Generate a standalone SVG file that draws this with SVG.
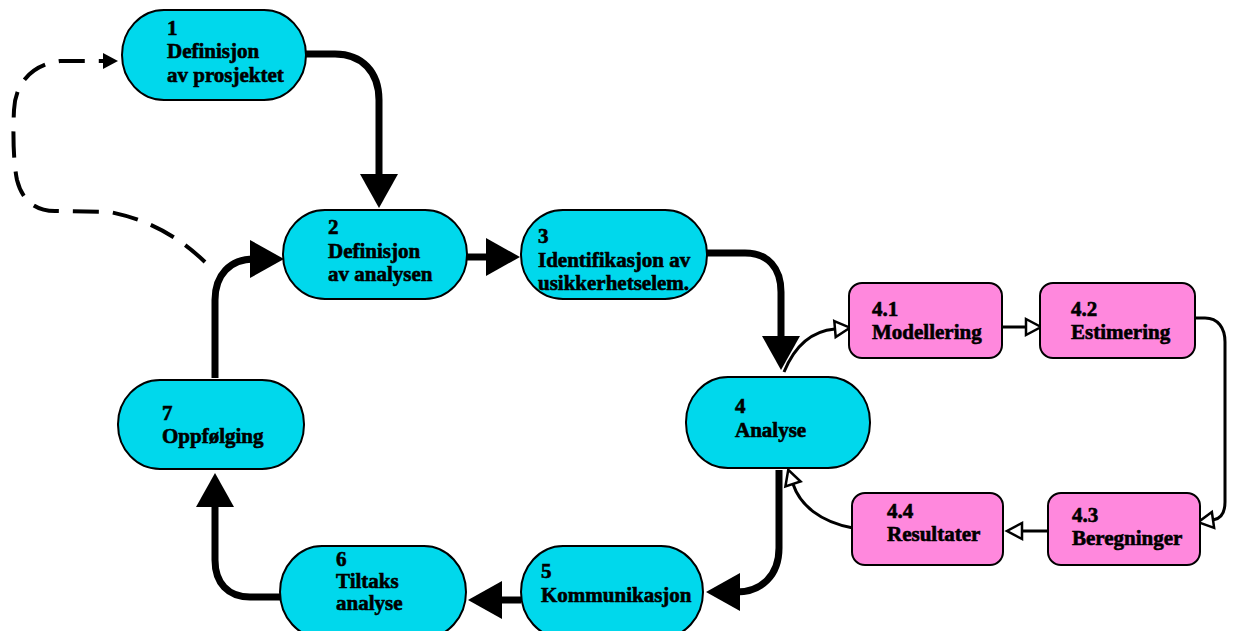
<svg xmlns="http://www.w3.org/2000/svg" width="1235" height="631" viewBox="0 0 1235 631">
<style>
.c{fill:#00D8EC;stroke:#000;stroke-width:2}
.p{fill:#FF88DD;stroke:#000;stroke-width:2}
text{font-family:"Liberation Serif","Times New Roman",serif;font-weight:bold;font-size:21px;fill:#000;stroke:#000;stroke-width:0.6}
.thick{fill:none;stroke:#000;stroke-width:7}
.thin{fill:none;stroke:#000;stroke-width:3}
.dash{fill:none;stroke:#000;stroke-width:4;stroke-dasharray:26 14}
</style>
<defs>
<marker id="big" markerUnits="userSpaceOnUse" markerWidth="36" markerHeight="38" refX="4" refY="19" orient="auto" overflow="visible">
<path d="M0,0 L34,19 L0,38 Z" fill="#000"/>
</marker>
<marker id="open" markerUnits="userSpaceOnUse" markerWidth="16" markerHeight="18" refX="0" refY="9" orient="auto" overflow="visible">
<path d="M0,1 L15,9 L0,17 Z" fill="#fff" stroke="#000" stroke-width="2.5"/>
</marker>
<marker id="solid" markerUnits="userSpaceOnUse" markerWidth="16" markerHeight="16" refX="0" refY="8" orient="auto" overflow="visible">
<path d="M0,0 L15,8 L0,16 Z" fill="#000"/>
</marker>
</defs>
<g id="connectors">
<path class="dash" d="M205,262 C180,238 150,220 110,212 L55,211 C35,211 22,200 17,180 C13,160 13,130 14,110 C15,85 30,65 60,61 L103,61" marker-end="url(#solid)"/>
<path class="thick" d="M306,54 L335,54 C362,54 379,72 379,100 L379,178" marker-end="url(#big)"/>
<path class="thick" d="M467,257 L490,257" marker-end="url(#big)"/>
<path class="thick" d="M707,253 L745,253 C768,253 781,268 781,292 L781,340" marker-end="url(#big)"/>
<path class="thin" d="M784,372 C795,345 812,331 835,329" marker-end="url(#open)"/>
<path class="thin" d="M1002,327 L1026,327" marker-end="url(#open)"/>
<path class="thin" d="M1195,318 L1205,318 C1218,318 1225,328 1225,342 L1225,502 C1225,514 1220,519 1213,520" marker-end="url(#open)"/>
<path class="thin" d="M1048,531 L1022,531" marker-end="url(#open)"/>
<path class="thin" d="M853,528 C820,522 800,505 793,484" marker-end="url(#open)"/>
<path class="thick" d="M779,470 L779,548 C779,575 762,592 736,592" marker-end="url(#big)"/>
<path class="thick" d="M521,600 L498,600" marker-end="url(#big)"/>
<path class="thick" d="M280,597 L250,597 C228,597 215,583 215,560 L215,503" marker-end="url(#big)"/>
<path class="thick" d="M215,378 L215,300 C215,275 230,259 254,259" marker-end="url(#big)"/>
</g>
<g id="n1"><rect class="c" x="122" y="10" width="184" height="90" rx="42" ry="45"/><text x="167" y="35">1</text><text x="167" y="58">Definisjon</text><text x="167" y="82">av prosjektet</text></g>
<g id="n2"><rect class="c" x="283" y="210" width="184" height="89" rx="42" ry="44"/><text x="328" y="234">2</text><text x="328" y="258">Definisjon</text><text x="328" y="281">av analysen</text></g>
<g id="n3"><rect class="c" x="521" y="210" width="186" height="89" rx="42" ry="44"/><text x="538" y="243">3</text><text x="538" y="267">Identifikasjon av</text><text x="538" y="290">usikkerhetselem.</text></g>
<g id="n4"><rect class="c" x="686" y="377" width="184" height="91" rx="42" ry="45"/><text x="735" y="413">4</text><text x="735" y="437">Analyse</text></g>
<g id="n7"><rect class="c" x="118" y="380" width="186" height="89" rx="42" ry="44"/><text x="162" y="420">7</text><text x="162" y="443">Oppfølging</text></g>
<g id="n6"><rect class="c" x="280" y="546" width="186" height="92" rx="42" ry="46"/><text x="336" y="566">6</text><text x="336" y="588">Tiltaks</text><text x="336" y="610">analyse</text></g>
<g id="n5"><rect class="c" x="521" y="546" width="182" height="92" rx="42" ry="46"/><text x="541" y="578">5</text><text x="541" y="602">Kommunikasjon</text></g>
<g id="n41"><rect class="p" x="849" y="283" width="153" height="75" rx="13"/><text x="872" y="316">4.1</text><text x="872" y="339">Modellering</text></g>
<g id="n42"><rect class="p" x="1040" y="283" width="155" height="75" rx="13"/><text x="1071" y="316">4.2</text><text x="1071" y="339">Estimering</text></g>
<g id="n44"><rect class="p" x="852" y="493" width="151" height="72" rx="13"/><text x="887" y="518">4.4</text><text x="887" y="541">Resultater</text></g>
<g id="n43"><rect class="p" x="1048" y="493" width="152" height="72" rx="13"/><text x="1072" y="522">4.3</text><text x="1072" y="545">Beregninger</text></g>
</svg>
